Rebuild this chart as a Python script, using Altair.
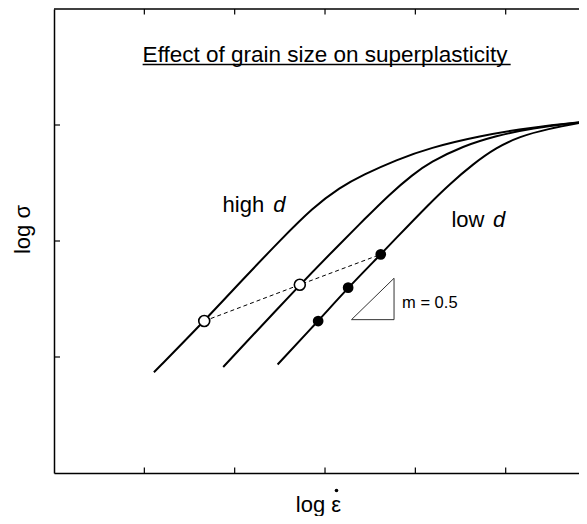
import altair as alt
import pandas as pd

FONT = "Liberation Sans"

# --- curve data (log strain rate, log flow stress) ---
high_x = [1.106, 1.663, 2.100, 2.500, 2.868, 3.164, 3.421, 3.791, 4.159, 4.712, 5.265, 5.900]
high_y = [0.868, 1.310, 1.677, 2.003, 2.290, 2.462, 2.571, 2.700, 2.803, 2.906, 2.978, 3.030]

mid_x = [1.873, 2.721, 3.200, 3.421, 3.717, 3.975, 4.159, 4.528, 4.897, 5.265, 5.900]
mid_y = [0.914, 1.623, 2.003, 2.175, 2.405, 2.575, 2.677, 2.820, 2.906, 2.972, 3.030]

low_x = [2.475, 2.924, 3.256, 3.617, 3.753, 4.159, 4.381, 4.638, 4.897, 5.155, 5.450, 5.900]
low_y = [0.935, 1.310, 1.598, 1.885, 1.997, 2.325, 2.491, 2.663, 2.806, 2.900, 2.964, 3.030]

# marked points
open_x = [1.663, 2.721]
open_y = [1.310, 1.623]
dot_x = [2.924, 3.256, 3.617]
dot_y = [1.310, 1.598, 1.885]

# dashed connector
dash_x = [1.663, 2.721, 3.617]
dash_y = [1.310, 1.623, 1.885]

# slope triangle
tri_x = [3.293, 3.764, 3.764, 3.293]
tri_y = [1.322, 1.322, 1.679, 1.322]

x_ticks = [1, 2, 3, 4, 5]
y_ticks = [1, 2, 3]

rows = []
for name, xs_, ys_ in [("high", high_x, high_y), ("mid", mid_x, mid_y), ("low", low_x, low_y)]:
    for i, (a, b) in enumerate(zip(xs_, ys_)):
        rows.append({"curve": name, "i": i, "x": a, "y": b})
curves = pd.DataFrame(rows)

xs = alt.Scale(domain=[0, 5.9], nice=False, zero=False)
ys = alt.Scale(domain=[0, 4], nice=False, zero=False)

X_TITLE = "log ε"
Y_TITLE = "log σ"

x_axis = alt.Axis(
    title=X_TITLE, labels=False, ticks=False, grid=False,
    domainColor="black", domainWidth=1.5,
    titleFont=FONT, titleFontSize=22, titleFontWeight="normal", titleColor="black",
    titleX=264, titleY=38, titleBaseline="alphabetic", titleAlign="center")
y_axis = alt.Axis(
    title=Y_TITLE, labels=False, ticks=False, grid=False,
    domainColor="black", domainWidth=1.5,
    titleFont=FONT, titleFontSize=22, titleFontWeight="normal", titleColor="black",
    titleX=-25, titleY=220, titleBaseline="alphabetic", titleAlign="center", titleAngle=270)


def X(f="x"):
    return alt.X(f"{f}:Q", scale=xs, axis=x_axis, title=X_TITLE)


def Y(f="y"):
    return alt.Y(f"{f}:Q", scale=ys, axis=y_axis, title=Y_TITLE)


curve_layer = alt.Chart(curves).mark_line(
    color="black", strokeWidth=2, interpolate="basis", clip=True
).encode(x=X(), y=Y(), detail="curve:N", order="i:Q")

dash_layer = alt.Chart(pd.DataFrame({"x": dash_x, "y": dash_y})).mark_line(
    color="black", strokeWidth=1, strokeDash=[4, 3]
).encode(x=X(), y=Y())

open_layer = alt.Chart(pd.DataFrame({"x": open_x, "y": open_y})).mark_point(
    filled=True, fill="white", stroke="black", strokeWidth=1.6, size=120, opacity=1, shape="circle"
).encode(x=X(), y=Y())

dot_layer = alt.Chart(pd.DataFrame({"x": dot_x, "y": dot_y})).mark_circle(
    color="black", size=115, opacity=1
).encode(x=X(), y=Y())

tri_layer = alt.Chart(pd.DataFrame({"x": tri_x, "y": tri_y, "o": [0, 1, 2, 3]})).mark_line(
    color="#333333", strokeWidth=1
).encode(x=X(), y=Y(), order="o:Q")

# texts
txt = pd.DataFrame({
    "x": [0.981, 1.866, 2.426, 4.399, 4.860, 3.853],
    "y": [3.543, 2.247, 2.247, 2.118, 2.118, 1.425],
    "t": ["Effect of grain size on superplasticity", "high", "d", "low", "d", "m = 0.5"],
    "s": [22.5, 22, 22, 22, 22, 16.5],
    "st": ["normal", "normal", "italic", "normal", "italic", "normal"],
})
text_layers = []
for _, r in txt.iterrows():
    text_layers.append(
        alt.Chart(pd.DataFrame([r])).mark_text(
            align="left", baseline="alphabetic", font=FONT, fontSize=float(r["s"]),
            fontStyle=r["st"], color="black"
        ).encode(x=X(), y=Y(), text="t:N")
    )

underline = alt.Chart(pd.DataFrame({"x": [0.981], "x2": [5.055], "y": [3.521]})).mark_rule(
    color="black", strokeWidth=1.5
).encode(x=X(), x2="x2:Q", y=Y())

# rate dot over the epsilon of the x-axis title
rate_dot = alt.Chart(pd.DataFrame({"k": [0]})).mark_circle(color="black", size=13, opacity=1).encode(
    x=alt.value(282.5), y=alt.value(481.5))

# frame top line and inward ticks
top_line = alt.Chart(pd.DataFrame({"x": [0]})).mark_rule(color="black", strokeWidth=1.5).encode(
    x=alt.value(0), x2=alt.value(533), y=alt.value(0))
xt = pd.DataFrame({"t": x_ticks})
yt = pd.DataFrame({"t": y_ticks})
bottom_ticks = alt.Chart(xt).mark_rule(color="black", strokeWidth=1.2).encode(
    x=X("t"), y=alt.value(464), y2=alt.value(458.5))
top_ticks = alt.Chart(xt).mark_rule(color="black", strokeWidth=1.2).encode(
    x=X("t"), y=alt.value(0), y2=alt.value(5.5))
left_ticks = alt.Chart(yt).mark_rule(color="black", strokeWidth=1.2).encode(
    y=Y("t"), x=alt.value(0), x2=alt.value(6))

chart = alt.layer(
    curve_layer, dash_layer, tri_layer, open_layer, dot_layer, underline, rate_dot,
    top_line, bottom_ticks, top_ticks, left_ticks, *text_layers
).properties(
    width=533, height=464,
    padding={"left": 46, "top": 1, "right": -8, "bottom": 43},
    autosize=alt.AutoSizeParams(type="none"),
    background="white",
).configure_view(stroke=None)

chart.save("out.html", embed_options={"renderer": "svg", "actions": False})
